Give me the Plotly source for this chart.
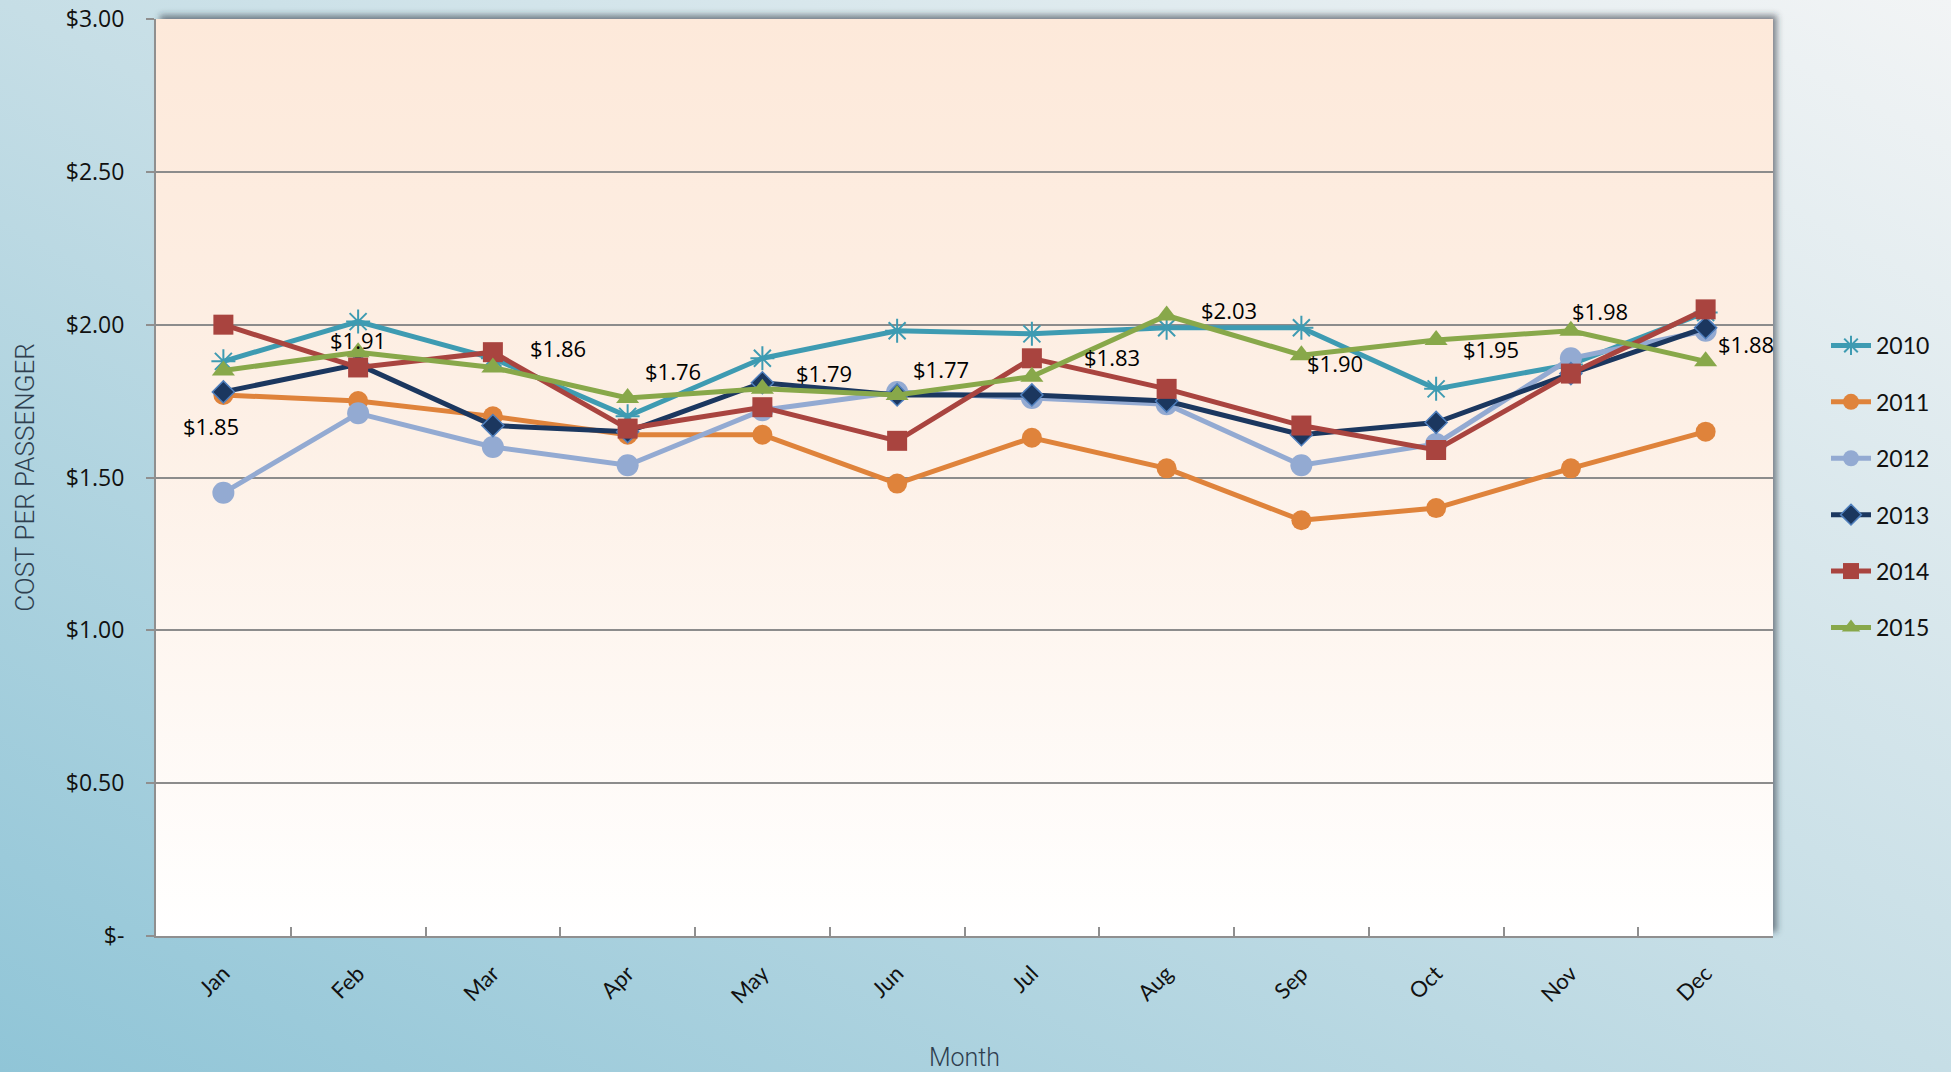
import base64
import plotly.graph_objects as go

# ---------------- data ----------------
months = ["Jan", "Feb", "Mar", "Apr", "May", "Jun", "Jul", "Aug", "Sep", "Oct", "Nov", "Dec"]
years = ["2010", "2011", "2012", "2013", "2014", "2015"]

cost_2010 = [1.88, 2.01, 1.89, 1.70, 1.89, 1.98, 1.97, 1.99, 1.99, 1.79, 1.87, 2.04]
cost_2011 = [1.77, 1.75, 1.70, 1.64, 1.64, 1.48, 1.63, 1.53, 1.36, 1.40, 1.53, 1.65]
cost_2012 = [1.45, 1.71, 1.60, 1.54, 1.72, 1.78, 1.76, 1.74, 1.54, 1.61, 1.89, 1.98]
cost_2013 = [1.78, 1.87, 1.67, 1.65, 1.81, 1.77, 1.77, 1.75, 1.64, 1.68, 1.84, 1.99]
cost_2014 = [2.00, 1.86, 1.91, 1.66, 1.73, 1.62, 1.89, 1.79, 1.67, 1.59, 1.84, 2.05]
cost_2015 = [1.85, 1.91, 1.86, 1.76, 1.79, 1.77, 1.83, 2.03, 1.90, 1.95, 1.98, 1.88]

y_tickvals = [0, 0.5, 1.0, 1.5, 2.0, 2.5, 3.0]
y_ticktext = ["$-", "$0.50", "$1.00", "$1.50", "$2.00", "$2.50", "$3.00"]

series = [cost_2010, cost_2011, cost_2012, cost_2013, cost_2014, cost_2015]

# ---------------- styling ----------------
W, H = 1951, 1072
ML, MR, MT, MB = 156, 178, 19, 136
PW, PH = W - ML - MR, H - MT - MB

styles = [
    dict(color="#3e9bb2", symbol="asterisk-open", size=20, line=dict(color="#3e9bb2", width=2)),
    dict(color="#df833b", symbol="circle", size=20, line=dict(width=0)),
    dict(color="#93aad2", symbol="circle", size=22, line=dict(width=0)),
    dict(color="#1b375f", symbol="diamond", size=17, line=dict(color="#4f7fbd", width=1.5)),
    dict(color="#a9443f", symbol="square", size=20, line=dict(width=0)),
    dict(color="#88a84a", symbol="triangle-up", size=20, line=dict(width=0)),
]
line_colors = ["#3e9bb2", "#df833b", "#93aad2", "#1b375f", "#a9443f", "#88a84a"]

# label offsets (pixels) for 2015 data labels
label_dx = [-12, 0, 65, 45, 62, 44, 80, 62, 34, 55, 29, 40]
label_dy = [-55, 12, 19, 27, 16, 26, 20, 6, -8, -9, 20, 17]


def svg_uri(svg):
    return "data:image/svg+xml;base64," + base64.b64encode(svg.encode()).decode()


paper_svg = f"""<svg xmlns='http://www.w3.org/2000/svg' width='{W}' height='{H}' viewBox='0 0 {W} {H}' preserveAspectRatio='none'>
<defs>
<linearGradient id='g' x1='0' y1='1' x2='1' y2='0'>
<stop offset='0' stop-color='#90c5d7'/>
<stop offset='0.5' stop-color='#c6dee6'/>
<stop offset='1' stop-color='#f2f4f5'/>
</linearGradient>
<filter id='b' x='-5%' y='-5%' width='110%' height='110%'><feGaussianBlur stdDeviation='3'/></filter>
</defs>
<rect width='{W}' height='{H}' fill='url(#g)'/>
<rect x='{ML+4}' y='{MT-4}' width='{PW}' height='{PH}' fill='rgba(40,50,60,0.55)' filter='url(#b)'/>
</svg>"""

plot_svg = """<svg xmlns='http://www.w3.org/2000/svg' width='100' height='100' viewBox='0 0 100 100' preserveAspectRatio='none'>
<defs><linearGradient id='p' x1='0' y1='0' x2='0' y2='1'>
<stop offset='0' stop-color='#fde9da'/>
<stop offset='0.45' stop-color='#fdf0e6'/>
<stop offset='1' stop-color='#ffffff'/>
</linearGradient></defs>
<rect width='100' height='100' fill='url(#p)'/>
</svg>"""

fig = go.Figure()

for i, (yr, vals) in enumerate(zip(years, series)):
    fig.add_trace(go.Scatter(
        x=months, y=vals, name=yr, mode="lines+markers",
        legendgroup=yr,
        line=dict(color=line_colors[i], width=5),
        marker=styles[i],
        hoverinfo="x+y+name",
    ))

annotations = []
for m, v, dx, dy in zip(months, cost_2015, label_dx, label_dy):
    annotations.append(dict(
        x=m, y=v, xref="x", yref="y", text=f"${v:.2f}", showarrow=False,
        xshift=dx, yshift=dy,
        font=dict(family="Open Sans, Liberation Sans, sans-serif", size=22, color="#000000"),
    ))

fig.update_layout(
    width=W, height=H,
    margin=dict(l=ML, r=MR, t=MT, b=MB, pad=0, autoexpand=False),
    paper_bgcolor="#c6dee6",
    plot_bgcolor="rgba(0,0,0,0)",
    showlegend=True,
    legend=dict(
        x=(1826 - ML) / PW, xanchor="left",
        y=1 - (324 - MT) / PH, yanchor="top",
        font=dict(family="Lato, sans-serif", size=23, color="#111111"),
        bgcolor="rgba(0,0,0,0)",
        tracegroupgap=23.5,
        itemwidth=40,
    ),
    annotations=annotations,
    images=[
        dict(source=svg_uri(paper_svg), xref="paper", yref="paper",
             x=-ML / PW, y=1 + MT / PH, sizex=W / PW, sizey=H / PH,
             sizing="stretch", layer="below", xanchor="left", yanchor="top"),
        dict(source=svg_uri(plot_svg), xref="paper", yref="paper",
             x=0, y=1, sizex=1, sizey=1,
             sizing="stretch", layer="below", xanchor="left", yanchor="top"),
    ],
    xaxis=dict(
        type="category", range=[-0.5, 11.5], automargin=False,
        showline=True, linecolor="#8f8f8f", linewidth=2,
        ticks="inside", tickson="boundaries", ticklen=9, tickcolor="#8f8f8f", tickwidth=1.5,
        showgrid=False, tickangle=-45, ticklabelstandoff=14,
        tickfont=dict(family="Lato, sans-serif", size=22, color="#111111"),
        title=dict(text="Month", standoff=58,
                   font=dict(family="Roboto, sans-serif", size=25, color="#2f3f4f", weight=300)),
    ),
    yaxis=dict(
        range=[0, 3], tickvals=y_tickvals, ticktext=y_ticktext, automargin=False,
        showline=True, linecolor="#8f8f8f", linewidth=2,
        ticks="outside", ticklen=8, tickcolor="#8f8f8f", tickwidth=1.5,
        showgrid=True, gridcolor="#8c8c8c", gridwidth=1.5, zeroline=False,
        ticklabelstandoff=17,
        tickfont=dict(family="Open Sans, Liberation Sans, sans-serif", size=23, color="#111111"),
        title=dict(text="COST PER PASSENGER", standoff=24,
                   font=dict(family="Roboto, sans-serif", size=26, color="#2f3f4f", weight=300)),
    ),
)

fig.write_html("out.html", config={"displayModeBar": False},
               post_script="document.body.style.margin='0';document.body.style.overflow='hidden';")
